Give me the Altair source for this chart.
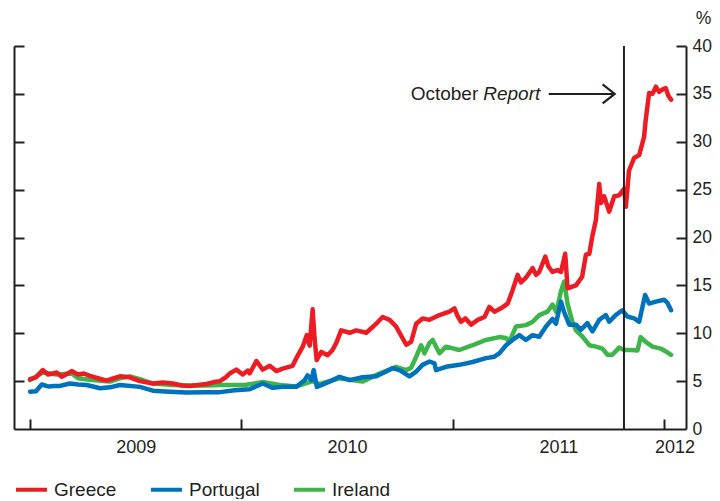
import altair as alt
import pandas as pd

# ---- data (10-year government bond yields, %, time in decimal years) ----
greece_t = [2009.000, 2009.028, 2009.060, 2009.085, 2009.109, 2009.126, 2009.150, 2009.170, 2009.197, 2009.227,
            2009.255, 2009.283, 2009.321, 2009.362, 2009.397, 2009.425, 2009.472, 2009.520, 2009.581, 2009.628,
            2009.676, 2009.718, 2009.756, 2009.794, 2009.835, 2009.869, 2009.898, 2009.926, 2009.945, 2009.976,
            2010.006, 2010.030, 2010.039, 2010.071, 2010.101, 2010.134, 2010.165, 2010.195, 2010.242, 2010.260,
            2010.290, 2010.309, 2010.323, 2010.337, 2010.346, 2010.356, 2010.378, 2010.408, 2010.431, 2010.449,
            2010.472, 2010.512, 2010.543, 2010.591, 2010.638, 2010.668, 2010.701, 2010.732, 2010.762, 2010.780,
            2010.803, 2010.827, 2010.857, 2010.890, 2010.937, 2010.984, 2011.008, 2011.023, 2011.039, 2011.060,
            2011.087, 2011.118, 2011.150, 2011.173, 2011.197, 2011.228, 2011.260, 2011.283, 2011.307, 2011.323,
            2011.346, 2011.378, 2011.394, 2011.409, 2011.438, 2011.452, 2011.472, 2011.496, 2011.512, 2011.532,
            2011.543, 2011.583, 2011.612, 2011.630, 2011.646, 2011.660, 2011.677, 2011.693, 2011.701, 2011.716,
            2011.740, 2011.764, 2011.787, 2011.811, 2011.819, 2011.834, 2011.858, 2011.882, 2011.905, 2011.913,
            2011.929, 2011.945, 2011.961, 2011.976, 2011.995, 2012.008, 2012.020, 2012.033]
greece_v = [5.2, 5.4, 6.15, 5.7, 5.8, 5.9, 5.45, 5.7, 6.05, 5.7,
            5.8, 5.55, 5.3, 5.05, 5.3, 5.5, 5.4, 5.0, 4.75, 4.85,
            4.75, 4.55, 4.5, 4.6, 4.7, 4.9, 5.0, 5.4, 5.8, 6.2,
            5.7, 6.1, 5.8, 7.1, 6.2, 6.6, 6.05, 6.3, 6.6, 7.4,
            8.6, 9.8, 8.7, 12.5, 9.5, 7.2, 8.05, 7.7, 8.25, 9.0,
            10.3, 10.05, 10.3, 10.05, 11.0, 11.7, 11.4, 10.7, 9.5, 8.8,
            9.1, 11.0, 11.55, 11.4, 11.9, 12.25, 12.6, 11.8, 11.2, 11.55,
            10.9, 11.4, 11.7, 12.75, 12.25, 12.6, 13.1, 14.5, 16.1, 15.3,
            15.8, 16.8, 16.1, 16.4, 18.0, 17.0, 16.4, 16.6, 16.4, 18.3,
            14.7, 15.0, 15.9, 18.2, 18.3, 20.1, 21.8, 25.6, 23.6, 24.3,
            22.7, 24.3, 24.4, 25.1, 23.2, 27.0, 28.3, 28.6, 30.5, 32.3,
            35.1, 35.0, 35.75, 35.2, 35.5, 35.6, 34.8, 34.4]

portugal_t = [2009.000, 2009.028, 2009.055, 2009.085, 2009.118, 2009.142, 2009.189, 2009.227, 2009.268, 2009.331,
              2009.378, 2009.425, 2009.520, 2009.581, 2009.661, 2009.740, 2009.827, 2009.898, 2009.968, 2010.039,
              2010.101, 2010.148, 2010.195, 2010.260, 2010.299, 2010.313, 2010.331, 2010.342, 2010.357, 2010.417,
              2010.464, 2010.512, 2010.573, 2010.638, 2010.685, 2010.715, 2010.748, 2010.795, 2010.827, 2010.857,
              2010.890, 2010.913, 2010.921, 2010.968, 2011.031, 2011.094, 2011.157, 2011.197, 2011.220, 2011.252,
              2011.283, 2011.315, 2011.346, 2011.378, 2011.409, 2011.441, 2011.472, 2011.488, 2011.512, 2011.527,
              2011.551, 2011.583, 2011.606, 2011.637, 2011.661, 2011.693, 2011.724, 2011.740, 2011.771, 2011.802,
              2011.826, 2011.858, 2011.882, 2011.910, 2011.929, 2011.961, 2012.000, 2012.015, 2012.033]
portugal_v = [3.9, 3.95, 4.65, 4.45, 4.5, 4.5, 4.75, 4.65, 4.6, 4.25,
              4.35, 4.6, 4.4, 4.0, 3.9, 3.8, 3.85, 3.85, 4.05, 4.15,
              4.75, 4.3, 4.4, 4.4, 5.1, 5.6, 5.1, 6.15, 4.4, 4.95,
              5.45, 5.1, 5.4, 5.5, 6.0, 6.35, 6.15, 5.5, 6.0, 6.7,
              7.05, 6.85, 6.15, 6.5, 6.7, 7.0, 7.4, 7.55, 7.9, 8.75,
              9.3, 9.8, 9.3, 9.8, 9.64, 10.7, 11.5, 11.0, 13.3, 12.2,
              10.9, 10.9, 10.35, 11.05, 10.2, 11.4, 11.9, 11.2, 11.9, 12.4,
              11.75, 11.55, 11.2, 14.0, 13.1, 13.3, 13.5, 13.2, 12.4]

ireland_t = [2009.000, 2009.060, 2009.126, 2009.197, 2009.227, 2009.283, 2009.331, 2009.378, 2009.425, 2009.472,
             2009.520, 2009.581, 2009.676, 2009.756, 2009.835, 2009.898, 2009.945, 2010.016, 2010.101, 2010.181,
             2010.260, 2010.307, 2010.337, 2010.370, 2010.464, 2010.573, 2010.653, 2010.732, 2010.780, 2010.803,
             2010.827, 2010.850, 2010.866, 2010.890, 2010.905, 2010.937, 2010.968, 2011.031, 2011.094, 2011.157,
             2011.220, 2011.252, 2011.267, 2011.299, 2011.346, 2011.378, 2011.409, 2011.448, 2011.472, 2011.490,
             2011.512, 2011.527, 2011.543, 2011.566, 2011.583, 2011.614, 2011.646, 2011.677, 2011.708, 2011.732,
             2011.755, 2011.787, 2011.811, 2011.842, 2011.874, 2011.889, 2011.913, 2011.945, 2011.984, 2012.008,
             2012.033]
ireland_v = [5.1, 5.9, 5.7, 5.8, 5.3, 5.15, 5.05, 4.95, 5.3, 5.5,
             5.2, 4.75, 4.6, 4.55, 4.55, 4.6, 4.6, 4.6, 4.9, 4.6,
             4.45, 4.8, 5.0, 4.7, 5.3, 4.95, 5.8, 6.5, 6.15, 6.4,
             7.55, 8.75, 7.9, 9.0, 9.3, 7.9, 8.6, 8.25, 8.75, 9.3,
             9.6, 9.5, 9.1, 10.7, 10.85, 11.2, 11.9, 12.25, 13.0, 12.2,
             14.4, 15.4, 13.1, 11.2, 10.3, 9.65, 8.75, 8.6, 8.4, 7.75,
             7.75, 8.5, 8.25, 8.25, 8.2, 9.6, 9.1, 8.6, 8.4, 8.1,
             7.75]

countries = ["Greece", "Portugal", "Ireland"]
colors = ["#ED1C24", "#0072BC", "#3DB54A"]

year_ticks = [2009, 2010, 2011, 2012]
year_label_pos = [2009.5, 2010.5, 2011.5, 2012.049]
y_ticks = [0, 5, 10, 15, 20, 25, 30, 35, 40]

report_t = [2011.810]
arrow_t0 = [2011.454]
arrow_t1 = [2011.766]
arrow_v = [35]
note_word1 = ["October"]
note_word2 = ["Report"]

# ---- build table ----
rows = []
for name, ts, vs in [("Greece", greece_t, greece_v),
                     ("Portugal", portugal_t, portugal_v),
                     ("Ireland", ireland_t, ireland_v)]:
    assert len(ts) == len(vs)
    for t, v in zip(ts, vs):
        rows.append({"country": name, "t": t, "v": v})
df = pd.DataFrame(rows)

INK = "#231F20"
FONT = "Liberation Sans"

xscale = alt.Scale(domain=[2008.924, 2012.1035], nice=False, zero=False)
yscale = alt.Scale(domain=[0, 40], nice=False, zero=True)
cscale = alt.Scale(domain=countries, range=colors)

legend = alt.Legend(orient="none", legendX=0, legendY=426, direction="horizontal", title=None,
                    symbolType="stroke", symbolSize=961, symbolStrokeWidth=4,
                    labelFontSize=19, labelFont=FONT, labelColor=INK, labelOffset=5,
                    columnPadding=26, padding=0)

x_label_axis = alt.Axis(orient="bottom", values=year_label_pos, labelExpr="'' + floor(datum.value)",
                        ticks=False, tickSize=0,
                        domain=True, domainColor=INK, domainWidth=2, grid=False, title=None,
                        labelFontSize=18, labelColor=INK, labelFont=FONT, labelPadding=9,
                        labelFlush=False, labelOverlap=False)
x_tick_axis = alt.Axis(orient="bottom", values=year_ticks, labels=False, domain=False, ticks=True, tickSize=10,
                       tickWidth=2, tickColor=INK, offset=-10, grid=False, title=None)
y_right_axis = alt.Axis(orient="right", values=y_ticks, ticks=False, tickSize=0, domain=True, domainColor=INK,
                        domainWidth=2, labelPadding=6, labelFontSize=17.5, labelColor=INK, labelFont=FONT,
                        title="%", titleAngle=0, titleX=17, titleY=-28, titleAlign="center",
                        titleBaseline="middle", titleFontSize=17.5, titleFontWeight="normal", titleColor=INK,
                        titleFont=FONT, grid=False)
y_left_domain = alt.Axis(orient="left", labels=False, ticks=False, domain=True, domainColor=INK, domainWidth=2,
                         grid=False, title=None)
y_left_ticks = alt.Axis(orient="left", values=y_ticks[1:], labels=False, domain=False, ticks=True, tickSize=10,
                        tickWidth=2, tickColor=INK, offset=-10, grid=False, title=None)
y_right_ticks = alt.Axis(orient="right", values=y_ticks[1:], labels=False, domain=False, ticks=True, tickSize=10,
                         tickWidth=2, tickColor=INK, offset=-10, grid=False, title=None)


def series(name, xaxis, yaxis):
    return alt.Chart(df).transform_filter(alt.datum.country == name).mark_line(
        strokeWidth=4.5, strokeJoin="round", strokeCap="round"
    ).encode(
        x=alt.X("t:Q", scale=xscale, axis=xaxis),
        y=alt.Y("v:Q", scale=yscale, axis=yaxis),
        color=alt.Color("country:N", scale=cscale, legend=legend),
    )


ire = series("Ireland", x_label_axis, y_right_axis)
por = series("Portugal", x_tick_axis, y_left_domain)
gre = series("Greece", None, y_left_ticks)

vline = alt.Chart(pd.DataFrame({"t": report_t})).mark_rule(color=INK, strokeWidth=2).encode(
    x=alt.X("t:Q", scale=xscale, axis=None)
)

arrow_df = pd.DataFrame({"t0": arrow_t0, "t1": arrow_t1, "v": arrow_v})
arrow = alt.Chart(arrow_df).mark_rule(color=INK, strokeWidth=2).encode(
    x=alt.X("t0:Q", scale=xscale, axis=None),
    x2="t1:Q",
    y=alt.Y("v:Q", scale=yscale, axis=y_right_ticks),
)
head = alt.Chart(arrow_df).mark_point(
    shape="M-1.2,-0.95L0,0L-1.2,0.95", filled=False, size=400, strokeWidth=2.2, color=INK, opacity=1
).encode(
    x=alt.X("t1:Q", scale=xscale, axis=None),
    y=alt.Y("v:Q", scale=yscale, axis=None),
)

note_df = pd.DataFrame({"t": [2011.130], "v": arrow_v, "w1": note_word1, "w2": note_word2})
txt1 = alt.Chart(note_df).mark_text(align="right", baseline="middle", dx=-2, fontSize=19, font=FONT,
                                    color=INK).encode(
    x=alt.X("t:Q", scale=xscale, axis=None), y=alt.Y("v:Q", scale=yscale, axis=None), text="w1:N")
txt2 = alt.Chart(note_df).mark_text(align="left", baseline="middle", dx=3, fontSize=19, font=FONT,
                                    fontStyle="italic", color=INK).encode(
    x=alt.X("t:Q", scale=xscale, axis=None), y=alt.Y("v:Q", scale=yscale, axis=None), text="w2:N")

chart = alt.layer(ire, por, gre, vline, arrow, head, txt1, txt2).resolve_axis(
    x="independent", y="independent"
).properties(
    width=672, height=383,
    padding={"left": 6, "top": 38, "right": 26, "bottom": 70},
    autosize=alt.AutoSizeParams(type="none"),
).configure_view(stroke=None)

chart.save("out.html", embed_options={"renderer": "svg", "actions": False})
